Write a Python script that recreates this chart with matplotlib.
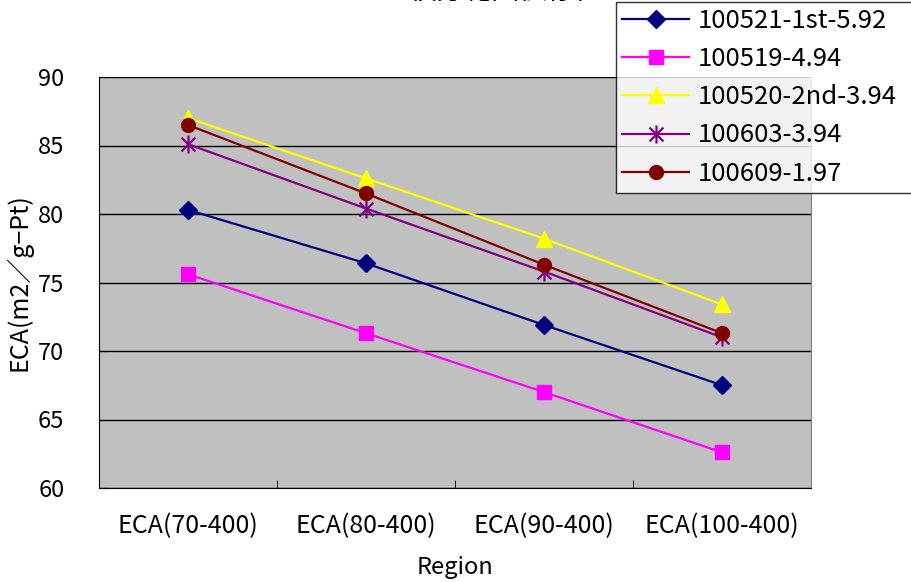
import matplotlib
matplotlib.use("Agg")
import matplotlib.pyplot as plt
from matplotlib.path import Path

plt.rcParams['font.family'] = ['Noto Sans CJK JP', 'DejaVu Sans']

categories = ["ECA(70-400)", "ECA(80-400)", "ECA(90-400)", "ECA(100-400)"]
series_names = ["100521-1st-5.92", "100519-4.94", "100520-2nd-3.94", "100603-3.94", "100609-1.97"]
s1 = [80.3, 76.4, 71.9, 67.5]
s2 = [75.6, 71.3, 67.0, 62.6]
s3 = [87.0, 82.6, 78.2, 73.4]
s4 = [85.1, 80.4, 75.8, 71.0]
s5 = [86.5, 81.5, 76.3, 71.3]
yticks = [60, 65, 70, 75, 80, 85, 90]
title = "積分範囲依存性"

# asterisk marker (x plus vertical bar)
star_path = Path(
    [(-1, -1), (1, 1), (-1, 1), (1, -1), (0, -1.3), (0, 1.3)],
    [Path.MOVETO, Path.LINETO, Path.MOVETO, Path.LINETO, Path.MOVETO, Path.LINETO],
)

styles = [
    dict(color="#000080", marker="D", ms=9),
    dict(color="#FF00FF", marker="s", ms=10),
    dict(color="#FFFF00", marker="^", ms=12),
    dict(color="#800080", marker=star_path, ms=13, mew=1.6),
    dict(color="#800000", marker="o", ms=10),
]
data = [s1, s2, s3, s4, s5]

fig = plt.figure(figsize=(9.11, 5.82), dpi=100)
ax = fig.add_axes([99/911, 1-488/582, (811-99)/911, (488-77)/582])
ax.set_facecolor("#C0C0C0")
x = list(range(len(categories)))
handles = []
for name, vals, st in zip(series_names, data, styles):
    mk = dict(st)
    h, = ax.plot(x, vals, color=mk.pop("color"), marker=mk.pop("marker"),
                 markersize=mk.pop("ms"), lw=1.6, label=name,
                 markeredgewidth=mk.pop("mew", 1.0), zorder=3)
    handles.append(h)

ax.set_xlim(-0.5, len(categories) - 0.5)
ax.set_ylim(60, 90)
ax.set_yticks(yticks)
ax.set_xticks(x)
ax.set_xticklabels(categories)
ax.set_xticks([i + 0.5 for i in range(len(categories) - 1)], minor=True)
ax.tick_params(axis='x', which='major', length=0, pad=18, labelsize=18)
ax.tick_params(axis='x', which='minor', length=6, direction='in', color='black')
ax.tick_params(axis='y', length=6, direction='in', labelsize=17, pad=25)
ax.yaxis.grid(True, color='black', lw=1)
ax.set_axisbelow(True)
ax.spines['top'].set_visible(False)
ax.spines['right'].set_color('#808080')
ax.spines['left'].set_color('black')
ax.spines['bottom'].set_color('black')
ax.set_ylabel("ECA(m2／g−Pt)", fontsize=18, labelpad=4)
ax.set_xlabel("Region", fontsize=17, labelpad=12)

fig.text(505/911, 1 + 1/582, title, ha='center', va='baseline', fontsize=20)

leg = fig.legend(handles=handles, loc='lower left',
                 bbox_to_anchor=(616/911, 1-193/582, 0.35, 0.4), mode='expand',
                 fontsize=18.5, frameon=True, fancybox=False, edgecolor='black',
                 handlelength=2.6, handletextpad=0.35, labelspacing=0.47,
                 borderpad=0.25, borderaxespad=0)
leg.get_frame().set_linewidth(1.0)

fig.savefig("out.png", dpi=100)
